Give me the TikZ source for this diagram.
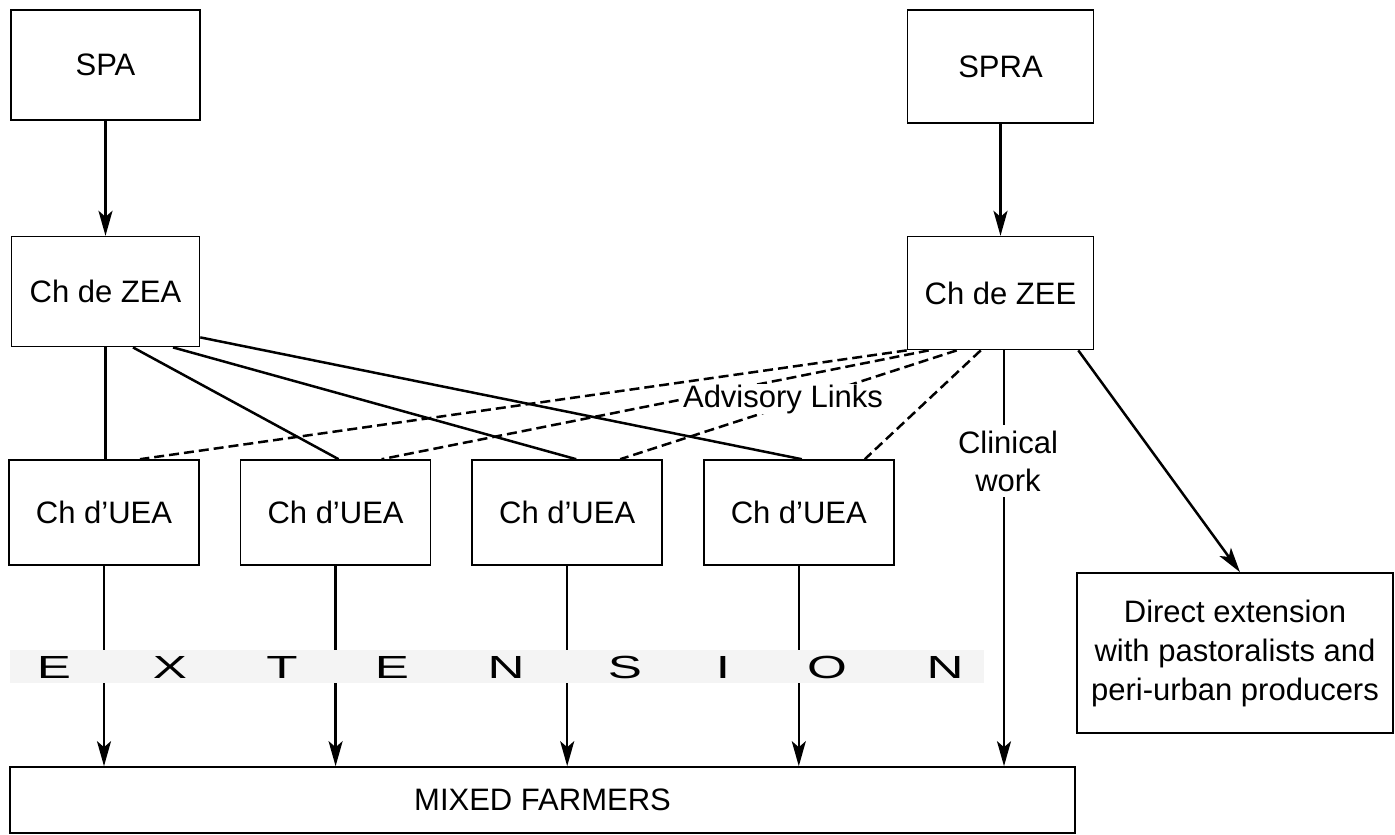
\documentclass[tikz,border=0pt]{standalone}
\usepackage{fontspec}
\setmainfont{Liberation Sans}
\usetikzlibrary{positioning,arrows.meta}

\begin{document}
\begin{tikzpicture}[x=1pt, y=-1pt,
  every node/.style={font=\fontsize{31}{39}\selectfont},
  box/.style={draw, line width=1.6pt, minimum width=188pt, minimum height=110pt, inner sep=2pt},
  unit/.style={box, minimum width=190pt, minimum height=105pt},
  link/.style={line width=2.5pt},
  flow/.style={link, -{Stealth[length=25pt, width=14pt, inset=6pt]}},
  advice/.style={link, dash pattern=on 10pt off 5pt},
  node distance=40pt]
	\useasboundingbox (0,0) rectangle (1395,835);
	% top of the two chains
	\node[box, minimum width=189pt] (SPA) at (105.5,65) {SPA};
	\node[box, below=115pt of SPA] (ZEA) {Ch de ZEA};
	\node[box, minimum width=186pt, minimum height=113pt] (SPRA) at (1000.5,66.5) {SPRA};
	\node[box, minimum width=186pt, minimum height=113pt, below=112pt of SPRA] (ZEE) {Ch de ZEE};
	% units
	\node[unit] (UEA1) at (104,512.5) {Ch d'UEA};
	\foreach \i [count=\j from 1] in {2,3,4}
		\node[unit, right=of UEA\j] (UEA\i) {Ch d'UEA};
	\node[draw, line width=1.6pt, minimum width=1065pt, minimum height=66pt] (MF) at (542.5,800) {MIXED FARMERS};
	\node[draw, line width=1.6pt, minimum width=316pt, minimum height=160pt, align=center] (DE) at (1235,653)
		{Direct extension\\with pastoralists and\\peri-urban producers};
	\node[inner sep=5.5pt, align=center, font=\fontsize{31}{38}\selectfont] (clin) at (1008,461) {Clinical\\work};
	\coordinate (cw) at (1004,0);
	% connectors
	\draw[flow] (SPA) -- (ZEA);
	\draw[flow] (SPRA) -- (ZEE);
	\draw[link] (ZEA.south) -- (ZEA.south |- UEA1.north);
	\draw[link] ([xshift=27.5pt]ZEA.south) -- ([xshift=3pt]UEA2.north);
	\draw[link] ([xshift=67.5pt]ZEA.south) -- ([xshift=9pt]UEA3.north);
	\draw[link] ([yshift=10pt]ZEA.south east) -- ([xshift=3pt]UEA4.north);
	\draw[advice] (ZEE.south west) -- ([xshift=36pt]UEA1.north);
	\draw[advice] ([xshift=22pt]ZEE.south west) -- ([xshift=46pt]UEA2.north);
	\draw[advice] ([xshift=50pt]ZEE.south west) -- ([xshift=53pt]UEA3.north);
	\draw[advice] ([xshift=74pt]ZEE.south west) -- ([xshift=66pt]UEA4.north);
	\node[fill=white, inner sep=1pt, anchor=base] (adv) at (783,407) {Advisory Links};
	\draw[link] (ZEE.south -| cw) -- (clin.north -| cw);
	\draw[flow] (clin.south -| cw) -- (MF.north -| cw);
	\draw[flow] ([xshift=-16pt]ZEE.south east) -- ([xshift=5pt]DE.north);
	\foreach \i in {1,...,4}
		\draw[flow] (UEA\i) -- (UEA\i |- MF.north);
	% extension band
	\node[fill=gray!9, minimum width=974pt, minimum height=33pt, inner sep=0pt] (band) at (497,666.5) {};
	\foreach \letter/\x [count=\k] in {E/54,X/170,T/282,E/392,N/506,S/625,I/723,O/827,N/945}
		\node[inner sep=0pt, font=\fontsize{32}{32}\selectfont] (ext\k) at (\x,667) {\scalebox{1.6}[1]{\letter}};
\end{tikzpicture}
\end{document}
